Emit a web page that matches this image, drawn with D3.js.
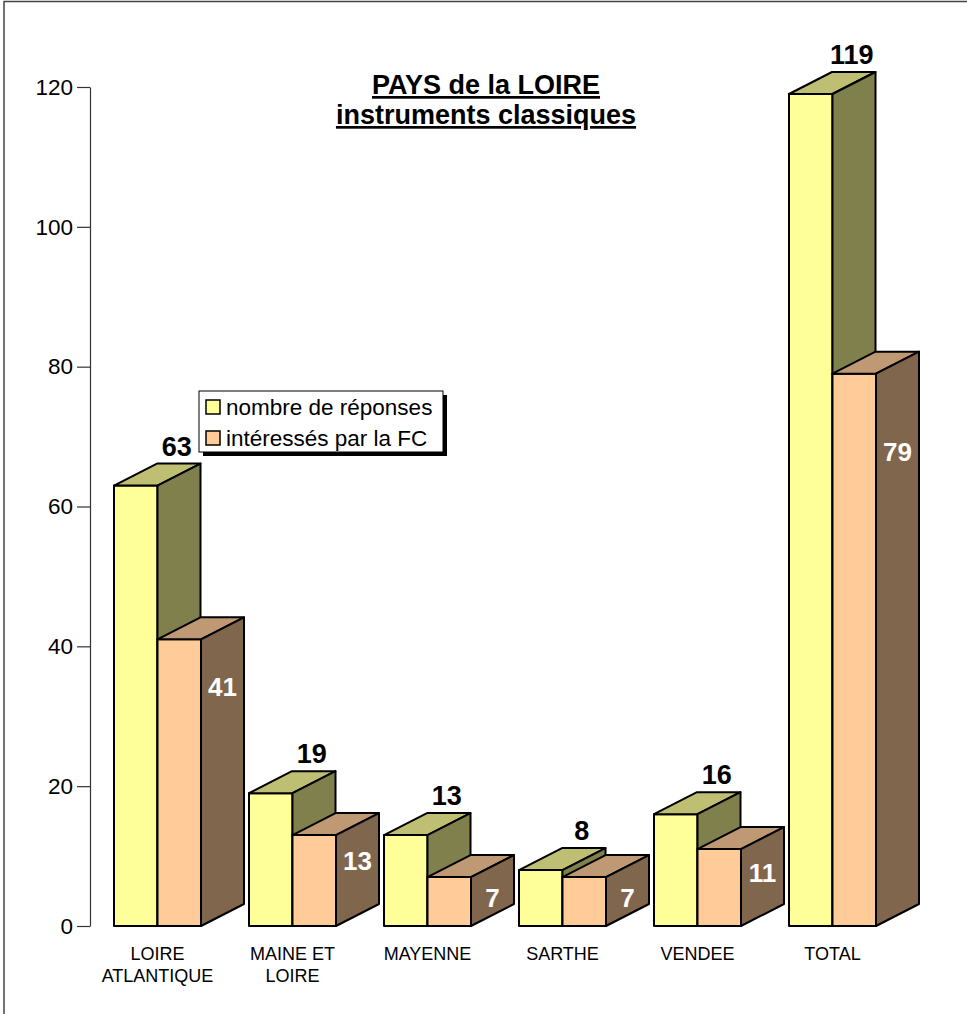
<!DOCTYPE html>
<html>
<head>
<meta charset="utf-8">
<script src="https://cdn.jsdelivr.net/npm/d3@7"></script>
<style>
  body { margin: 0; background: #fff; }
  svg { display: block; font-family: "Liberation Sans", Arial, sans-serif; }
</style>
</head>
<body>
<div id="chart"></div>
<script>
// data
const categories = ['LOIRE ATLANTIQUE', 'MAINE ET LOIRE', 'MAYENNE', 'SARTHE', 'VENDEE', 'TOTAL'];
const categoryLines = [['LOIRE', 'ATLANTIQUE'], ['MAINE ET', 'LOIRE'], ['MAYENNE'], ['SARTHE'], ['VENDEE'], ['TOTAL']];
const responses = [63, 19, 13, 8, 16, 119];
const interested = [41, 13, 7, 7, 11, 79];
const seriesNames = ['nombre de réponses', 'intéressés par la FC'];
const yTicks = [0, 20, 40, 60, 80, 100, 120];
const titleLines = ['PAYS de la LOIRE', 'instruments classiques'];

const w = 967;
const h = 1014;

// face colours: front, top, side
const palette = [
  { front: '#ffff99', top: '#bfbf73', side: '#80804d' },
  { front: '#ffcc99', top: '#bf9973', side: '#80664d' }];


const depthX = 43;
const depthY = 22;

const svg = d3.select('#chart').
append('svg').
attr('width', w).
attr('height', h);

// outer frame (only left/top fall inside the picture)
svg.append('rect').
attr('x', 4).
attr('y', 1.5).
attr('width', w + 10).
attr('height', h + 10).
style('fill', 'none').
style('stroke', '#444').
style('stroke-width', 1.5);

const yScale = d3.scaleLinear().
domain([0, 120]).
range([926, 87]);

const xScale = d3.scaleBand().
domain(categories).
range([90, 900]).
paddingInner(0);

const barW = 43.5;

const yAxis = d3.axisLeft(yScale).
tickValues(yTicks).
tickSize(13).
tickSizeOuter(0).
tickPadding(4);

const axisG = svg.append('g').
attr('transform', 'translate(90,0)').
call(yAxis);

axisG.selectAll('path, line').
style('stroke', '#333').
style('stroke-width', 1.2);
axisG.selectAll('text').
style('font-size', '22.5px').
style('fill', '#000').
style('font-family', '"Liberation Sans", Arial, sans-serif');

// title
const title = svg.append('text').
attr('text-anchor', 'middle').
style('font-weight', 'bold').
style('font-size', '27px').
style('text-decoration', 'underline');

titleLines.forEach(function (line, i) {
  title.append('tspan').
  attr('x', 486).
  attr('y', 94 + i * 30).
  text(line);
});

// 3d bars
const barsG = svg.append('g');

function drawBar(g, x0, value, colors) {
  const yv = yScale(value);
  const y0 = yScale(0);

  g.append('rect').
  attr('x', x0).
  attr('y', yv).
  attr('width', barW).
  attr('height', y0 - yv).
  style('fill', colors.front);

  g.append('polygon').
  attr('points', [
  [x0, yv], [x0 + depthX, yv - depthY],
  [x0 + barW + depthX, yv - depthY], [x0 + barW, yv]].
  join(' ')).
  style('fill', colors.top);

  g.append('polygon').
  attr('points', [
  [x0 + barW, yv], [x0 + barW + depthX, yv - depthY],
  [x0 + barW + depthX, y0 - depthY], [x0 + barW, y0]].
  join(' ')).
  style('fill', colors.side);

  g.selectAll('rect, polygon').
  style('stroke', '#000').
  style('stroke-width', 2).
  style('stroke-linejoin', 'round');
}

categories.forEach(function (cat, i) {
  const xStart = xScale(cat) + xScale.bandwidth() / 2 - barW;
  const g1 = barsG.append('g');
  drawBar(g1, xStart, responses[i], palette[0]);
  const g2 = barsG.append('g');
  drawBar(g2, xStart + barW, interested[i], palette[1]);

  // value above the yellow bar
  barsG.append('text').
  attr('x', xStart + barW / 2 + depthX - 2).
  attr('y', yScale(responses[i]) - depthY - 8).
  attr('text-anchor', 'middle').
  style('font-weight', 'bold').
  style('font-size', '27px').
  text(responses[i]);

  // value on the side of the orange bar
  const barH = yScale(0) - yScale(interested[i]);
  barsG.append('text').
  attr('x', xStart + 2 * barW + depthX / 2).
  attr('y', yScale(interested[i]) + 15 + 0.115 * barH + 9).
  attr('text-anchor', 'middle').
  style('font-weight', 'bold').
  style('font-size', '26px').
  style('fill', '#fff').
  text(interested[i]);
});

// category labels
const catG = svg.append('g');
categories.forEach(function (cat, i) {
  const t = catG.append('text').
  attr('text-anchor', 'middle').
  style('font-size', '18px');
  categoryLines[i].forEach(function (line, j) {
    t.append('tspan').
    attr('x', xScale(cat) + xScale.bandwidth() / 2).
    attr('y', 960 + j * 22).
    text(line);
  });
});

// legend
const legend = svg.append('g').
attr('transform', 'translate(199,391)');

legend.append('rect').
attr('x', 4).
attr('y', 4).
attr('width', 244).
attr('height', 61).
style('fill', '#000');

legend.append('rect').
attr('width', 244).
attr('height', 61).
style('fill', '#fff').
style('stroke', '#000').
style('stroke-width', 1);

seriesNames.forEach(function (name, i) {
  legend.append('rect').
  attr('x', 7).
  attr('y', 9 + i * 31).
  attr('width', 14).
  attr('height', 14).
  style('fill', palette[i].front).
  style('stroke', '#000').
  style('stroke-width', 1.5);

  legend.append('text').
  attr('x', 27).
  attr('y', 24 + i * 31).
  style('font-size', '22.5px').
  text(name);
});
</script>
</body>
</html>
